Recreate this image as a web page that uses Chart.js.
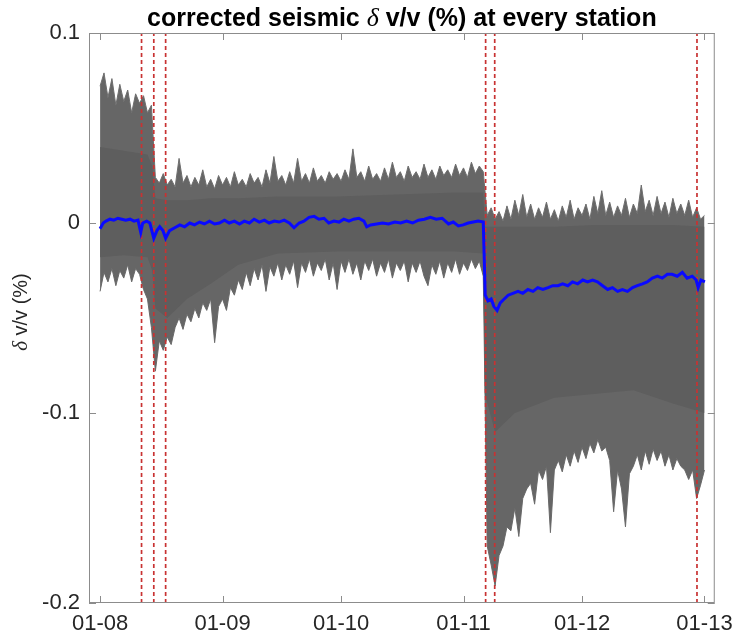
<!DOCTYPE html>
<html>
<head>
<meta charset="utf-8">
<script src="https://cdn.jsdelivr.net/npm/chart.js@4.4.1/dist/chart.umd.min.js"></script>
<style>
    body { margin: 0; background: #fff; }
    #wrap { width: 741px; height: 640px; }
</style>
</head>
<body>
<div id="wrap"><canvas id="chartDvv" width="741" height="640"></canvas></div>
<script>
// x = days since 01-08, one envelope sample per day (day 0 .. 153)
const tickDays = [0, 31, 61, 92, 122, 153];
const tickLabels = ['01-08', '01-09', '01-10', '01-11', '01-12', '01-13'];

// red dashed event lines (days)
const eventDays = [10.5, 13.6, 16.6, 97.6, 99.9, 151.1];

// outer (spiky) upper edge of the gray station traces (%)
const stationUpper = [
    0.072, 0.079, 0.066, 0.076, 0.062, 0.073, 0.064, 0.070, 0.058, 0.068, 0.063, 0.067, 0.058, 0.062,
    0.024, 0.021, 0.026, 0.020, 0.023, 0.019, 0.034, 0.021, 0.025, 0.019, 0.024, 0.020, 0.028, 0.019, 0.023, 0.018, 0.025,
    0.020, 0.024, 0.019, 0.027, 0.020, 0.023, 0.019, 0.026, 0.021, 0.024, 0.019, 0.028, 0.021, 0.035, 0.022, 0.025,
    0.020, 0.027, 0.021, 0.034, 0.022, 0.026, 0.021, 0.029, 0.022, 0.025, 0.021, 0.027, 0.023, 0.026, 0.022, 0.028,
    0.023, 0.039, 0.024, 0.027, 0.022, 0.030, 0.023, 0.026, 0.022, 0.029, 0.023, 0.032, 0.024, 0.027, 0.022, 0.030,
    0.024, 0.027, 0.023, 0.031, 0.024, 0.028, 0.023, 0.030, 0.025, 0.028, 0.024, 0.031, 0.025, 0.029, 0.024, 0.032,
    0.026, 0.030, 0.027,
    0.004, 0.008, 0.002, 0.006, 0.001, 0.009, 0.002, 0.012, 0.004, 0.015, 0.003, 0.010, 0.002, 0.008, 0.003, 0.011,
    0.002, 0.007, 0.001, 0.009, 0.003, 0.012, 0.002, 0.008, 0.004, 0.010, 0.002, 0.014, 0.005, 0.017, 0.004, 0.011,
    0.003, 0.009, 0.004, 0.013, 0.003, 0.010, 0.005, 0.020, 0.006, 0.012, 0.004, 0.014, 0.005, 0.011, 0.003, 0.013,
    0.005, 0.010, 0.004, 0.012, 0.003, 0.008, 0.002, 0.004
];

// outer (spiky) lower edge of the gray station traces (%)
const stationLower = [
    -0.036, -0.026, -0.031, -0.024, -0.033, -0.025, -0.029, -0.022, -0.031, -0.024, -0.027, -0.035, -0.040, -0.055,
    -0.078, -0.062, -0.067, -0.060, -0.064, -0.055, -0.050, -0.056, -0.048, -0.052, -0.045, -0.050, -0.042, -0.046, -0.040, -0.063, -0.044,
    -0.040, -0.046, -0.034, -0.038, -0.030, -0.035, -0.026, -0.033, -0.024, -0.030, -0.022, -0.036, -0.023, -0.028, -0.021, -0.030,
    -0.022, -0.027, -0.020, -0.034, -0.021, -0.026, -0.019, -0.028, -0.021, -0.025, -0.019, -0.030, -0.021, -0.035, -0.020, -0.026,
    -0.019, -0.027, -0.021, -0.030, -0.020, -0.025, -0.019, -0.028, -0.021, -0.026, -0.019, -0.029, -0.021, -0.025, -0.020, -0.031,
    -0.021, -0.026, -0.020, -0.028, -0.033, -0.022, -0.027, -0.020, -0.029, -0.021, -0.026, -0.019, -0.027, -0.021, -0.025, -0.019,
    -0.024, -0.020, -0.028,
    -0.170, -0.180, -0.191, -0.175, -0.170, -0.160, -0.162, -0.150, -0.165, -0.145, -0.140, -0.137, -0.148, -0.130, -0.135, -0.128,
    -0.163, -0.130, -0.125, -0.131, -0.122, -0.128, -0.120, -0.126, -0.118, -0.124, -0.116, -0.121, -0.114, -0.120, -0.118, -0.125,
    -0.152, -0.130, -0.140, -0.160, -0.132, -0.128, -0.122, -0.130, -0.120, -0.127, -0.119, -0.125, -0.120, -0.128, -0.122, -0.130,
    -0.124, -0.128, -0.130, -0.135, -0.130, -0.145, -0.138, -0.130
];

// dense core of the traces, where the gray is solid
const coreDays = [0, 6, 12, 13.2, 14, 17, 22, 28, 35, 45, 60, 75, 90, 97, 97.4, 100, 105, 115, 125, 135, 145, 153];
const coreUpper = [0.040, 0.038, 0.036, 0.030, 0.013, 0.012, 0.012, 0.013, 0.013, 0.014, 0.014, 0.015, 0.016, 0.016,
    -0.002, -0.002, -0.002, -0.002, -0.001, -0.001, -0.001, -0.002];
const coreLower = [-0.018, -0.017, -0.018, -0.025, -0.045, -0.050, -0.040, -0.032, -0.022, -0.016, -0.015, -0.015, -0.015, -0.016,
    -0.090, -0.110, -0.100, -0.092, -0.090, -0.088, -0.095, -0.100];

// blue mean dv/v curve
const meanDays = [
    0, 0.8, 1.5, 2.5, 3.5, 4.5, 5.5, 6.5, 7.6, 8.6, 9.6, 10.3, 10.8, 11.8, 12.6, 13.6, 14.4, 15.1, 15.9, 16.6,
    17.6, 18.9, 20.2, 21.4, 22.7, 23.9, 25.2, 26.4, 27.7, 29, 30.2, 31.5, 32.7, 34, 35.3, 36.5, 37.8, 39, 40.3, 41.6,
    42.8, 44.1, 45.3, 46.6, 47.9, 49.1, 50.4, 51.6, 52.9, 54.2, 55.4, 56.7, 57.9, 59.2, 60.5, 61.7, 63, 64.2, 65.5, 66.8,
    67.5, 68.5, 70, 71.5, 73, 74.6, 76.1, 77.6, 79.1, 80.6, 82.1, 83.6, 85.1, 86.6, 88.2, 89.4, 90.7, 91.9, 93.2, 94.5,
    95.7, 97, 97.5, 98.2, 99, 99.7, 100.5, 101.3, 102.3, 103.3, 104.5, 105.8, 107, 108.3, 109.6, 110.8, 112.1, 113.4, 114.6, 115.9,
    117.1, 118.4, 119.6, 120.9, 122.2, 123.4, 124.7, 125.9, 127.2, 128.5, 129.7, 131, 132.2, 133.5, 134.8, 136, 137.3, 138.5, 139.8, 141.1,
    142.3, 143.6, 144.8, 146.1, 147.4, 148.6, 149.9, 150.9, 151.4, 152.1, 153.1
];
const meanValues = [
    -0.003, 0.000, 0.001, 0.002, 0.0015, 0.0025, 0.002, 0.0015, 0.002, 0.001, 0.0015, -0.005, 0.000, 0.001, 0.000, -0.008, -0.004, -0.002, -0.004, -0.008,
    -0.004, -0.0025, -0.001, -0.002, 0.000, -0.001, 0.0005, -0.0005, 0.001, -0.0005, 0.000, 0.0015, 0.000, 0.001, -0.0005, 0.001, 0.000, 0.002, 0.0005, 0.0015,
    0.000, 0.001, 0.0005, 0.0015, 0.000, -0.0025, 0.000, 0.001, 0.003, 0.0035, 0.002, 0.0025, 0.000, 0.001, 0.0005, 0.002, 0.001, 0.002, 0.0025, 0.001,
    -0.002, -0.001, -0.0005, 0.000, -0.0005, 0.0005, 0.000, 0.001, 0.000, 0.0015, 0.002, 0.003, 0.002, 0.0025, -0.0005, 0.0005, -0.0015, -0.001, 0.000, 0.0005,
    0.001, 0.0005, -0.038, -0.041, -0.040, -0.044, -0.046, -0.042, -0.040, -0.038, -0.037, -0.036, -0.037, -0.035, -0.036, -0.034, -0.035, -0.034, -0.033, -0.033,
    -0.032, -0.033, -0.031, -0.032, -0.030, -0.031, -0.030, -0.031, -0.033, -0.035, -0.034, -0.036, -0.035, -0.036, -0.034, -0.033, -0.032, -0.031, -0.029, -0.028,
    -0.029, -0.027, -0.027, -0.028, -0.026, -0.029, -0.028, -0.030, -0.034, -0.030, -0.031
];

const AXIS_GREY = '#8c8c8c';
const TEXT_DARK = '#262626';
const FONT = '"Liberation Sans", Arial, Helvetica, sans-serif';

let dvvChart = null;

// box round the axes plus MATLAB style inward ticks on all four sides
const boxAxesPlugin = {
    id: 'boxAxes',
    afterDatasetsDraw(chart) {
        const { ctx, chartArea: a, scales } = chart;
        const tl = 7;
        ctx.save();
        ctx.strokeStyle = AXIS_GREY;
        ctx.lineWidth = 1;
        ctx.strokeRect(a.left + 0.5, a.top + 0.5, a.right - a.left - 1, a.bottom - a.top - 1);
        ctx.beginPath();
        tickDays.forEach(d => {
            const x = Math.round(scales.x.getPixelForValue(d)) + 0.5;
            ctx.moveTo(x, a.bottom); ctx.lineTo(x, a.bottom - tl);
            ctx.moveTo(x, a.top); ctx.lineTo(x, a.top + tl);
        });
        scales.y.ticks.forEach(t => {
            const y = Math.round(scales.y.getPixelForValue(t.value)) + 0.5;
            ctx.moveTo(a.left, y); ctx.lineTo(a.left + tl, y);
            ctx.moveTo(a.right, y); ctx.lineTo(a.right - tl, y);
        });
        ctx.stroke();
        ctx.restore();
    }
};

// title and y label with an italic delta
function drawMixed(ctx, parts, cx, cy) {
    let total = 0;
    parts.forEach(p => { ctx.font = p.font; p.w = ctx.measureText(p.text).width; total += p.w; });
    let x = cx - total / 2;
    parts.forEach(p => { ctx.font = p.font; ctx.fillText(p.text, x, cy); x += p.w; });
}

const labelsPlugin = {
    id: 'mixedLabels',
    afterDraw(chart) {
        const { ctx, chartArea: a } = chart;
        ctx.save();
        ctx.fillStyle = '#000';
        ctx.textAlign = 'left';
        ctx.textBaseline = 'alphabetic';
        drawMixed(ctx, [
            { text: 'corrected seismic ', font: 'bold 25px ' + FONT },
            { text: 'δ', font: 'italic 26px "Liberation Serif", serif' },
            { text: ' v/v (%) at every station', font: 'bold 25px ' + FONT }
        ], (a.left + a.right) / 2, 26);

        ctx.fillStyle = TEXT_DARK;
        ctx.translate(21, 312);
        ctx.rotate(-Math.PI / 2);
        ctx.textBaseline = 'middle';
        drawMixed(ctx, [
            { text: 'δ', font: 'italic 21px "Liberation Serif", serif' },
            { text: ' v/v (%)', font: '20px ' + FONT }
        ], 0, 0);
        ctx.restore();
    }
};

function renderDvvChart() {
    const ctx = document.getElementById('chartDvv').getContext('2d');

    const upperPts = stationUpper.map((v, i) => ({ x: i, y: v }));
    const lowerPts = stationLower.map((v, i) => ({ x: i, y: v }));
    const coreUpPts = coreDays.map((d, i) => ({ x: d, y: coreUpper[i] }));
    const coreLowPts = coreDays.map((d, i) => ({ x: d, y: coreLower[i] }));
    const meanPts = meanDays.map((d, i) => ({ x: d, y: meanValues[i] }));

    const datasets = [
        {
            label: 'mean',
            data: meanPts,
            borderColor: '#0a0aff',
            borderWidth: 3,
            pointRadius: 0,
            fill: false,
            order: 0
        },
        {
            label: 'upper',
            data: upperPts,
            borderColor: '#6e6e6e',
            backgroundColor: '#666666',
            borderWidth: 1,
            pointRadius: 0,
            fill: { target: 2 },
            order: 4
        },
        {
            label: 'lower',
            data: lowerPts,
            borderColor: '#6e6e6e',
            borderWidth: 1,
            pointRadius: 0,
            fill: false,
            order: 4
        },
        {
            label: 'core upper',
            data: coreUpPts,
            borderWidth: 0,
            backgroundColor: '#5e5e5e',
            pointRadius: 0,
            fill: { target: 4 },
            order: 3
        },
        {
            label: 'core lower',
            data: coreLowPts,
            borderWidth: 0,
            pointRadius: 0,
            fill: false,
            order: 3
        }
    ];

    eventDays.forEach(d => {
        datasets.push({
            label: 'event',
            data: [{ x: d, y: -0.2 }, { x: d, y: 0.1 }],
            borderColor: '#c83232',
            borderWidth: 1.7,
            borderDash: [4, 3],
            pointRadius: 0,
            fill: false,
            order: 1
        });
    });

    if (dvvChart) {
        dvvChart.destroy();
    }

    dvvChart = new Chart(ctx, {
        type: 'line',
        data: { datasets: datasets },
        options: {
            responsive: false,
            animation: false,
            layout: { padding: { top: 33, right: 23, left: 0, bottom: 0 } },
            plugins: {
                legend: { display: false },
                tooltip: { enabled: false }
            },
            scales: {
                x: {
                    type: 'linear',
                    min: -2.8,
                    max: 155.6,
                    grid: { display: false, drawTicks: false },
                    border: { display: false },
                    afterBuildTicks: scale => {
                        scale.ticks = tickDays.map(v => ({ value: v }));
                    },
                    afterFit: scale => { scale.height = 37; },
                    ticks: {
                        autoSkip: false,
                        maxRotation: 0,
                        padding: 8,
                        color: TEXT_DARK,
                        font: { family: FONT, size: 22 },
                        callback: v => tickLabels[tickDays.indexOf(v)]
                    }
                },
                y: {
                    min: -0.2,
                    max: 0.1,
                    grid: { display: false, drawTicks: false },
                    border: { display: false },
                    afterFit: scale => { scale.width = 89; },
                    ticks: {
                        stepSize: 0.1,
                        padding: 9,
                        color: TEXT_DARK,
                        font: { family: FONT, size: 22 },
                        callback: v => {
                            const r = Math.round(v * 10) / 10;
                            return r === 0 ? '0' : String(r);
                        }
                    }
                }
            }
        },
        plugins: [boxAxesPlugin, labelsPlugin]
    });
}

renderDvvChart();
</script>
</body>
</html>
